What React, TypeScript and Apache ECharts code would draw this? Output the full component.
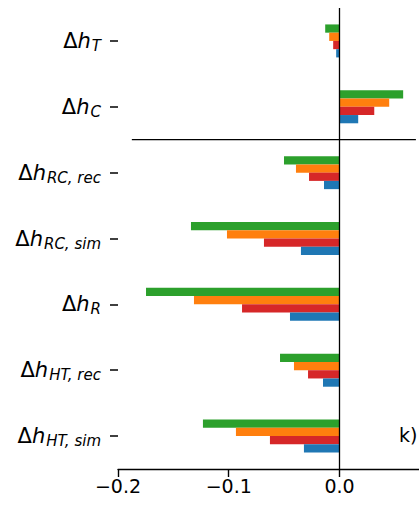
import React, { useEffect, useRef } from "react";
import * as echarts from "echarts";

const categories = ["Δh_T", "Δh_C", "Δh_RC, rec", "Δh_RC, sim", "Δh_R", "Δh_HT, rec", "Δh_HT, sim"];
const greenValues = [-0.0129, 0.0575, -0.0501, -0.1341, -0.1747, -0.0537, -0.1233];
const orangeValues = [-0.0093, 0.0449, -0.0393, -0.1016, -0.1314, -0.0411, -0.0935];
const redValues = [-0.0057, 0.0314, -0.0275, -0.0682, -0.088, -0.0284, -0.0628];
const blueValues = [-0.003, 0.0169, -0.014, -0.0348, -0.0447, -0.0149, -0.0321];
const xTicks = [-0.2, -0.1, 0.0];
const separatorX = [-0.1875, 0.069];
const panelLabel = "k)";

const FONT = "DejaVu Sans";

export default function App() {
  const ref = useRef<HTMLDivElement>(null);
  useEffect(() => {
    document.body.style.margin = "0";
    const chart = echarts.init(ref.current!, null, { renderer: "svg" });
    const barCommon = {
      type: "bar" as const,
      barWidth: 8.25,
      barGap: "0%",
    };
    chart.setOption({
      animation: false,
      grid: { left: 118, right: 0, top: 8, bottom: 42, containLabel: false },
      xAxis: {
        type: "value",
        min: -0.2,
        max: 0.0718,
        interval: 0.1,
        splitLine: { show: false },
        axisLine: { show: true, onZero: false, lineStyle: { color: "#000", width: 1.3 } },
        axisTick: { show: true, length: 8, customValues: xTicks, lineStyle: { color: "#000", width: 1.4 } },
        axisLabel: {
          customValues: xTicks,
          margin: 7,
          fontSize: 19,
          fontFamily: FONT,
          color: "#000",
          formatter: (v: number) => (v < -1e-9 ? "\u2212" : "") + Math.abs(v).toFixed(1),
        },
      },
      yAxis: {
        type: "category",
        inverse: true,
        data: categories,
        axisLine: { show: false, onZero: false },
        axisTick: { show: true, alignWithLabel: true, length: 8, lineStyle: { color: "#000", width: 1.5 } },
        splitLine: { show: false },
        axisLabel: {
          margin: 17,
          color: "#000",
          formatter: (v: string) => {
            const sub = v.split("_")[1];
            return `{d|Δ}{h|h}{s|${sub}}`;
          },
          rich: {
            d: { fontSize: 21, fontFamily: FONT, lineHeight: 22, color: "#000" },
            h: { fontSize: 21, fontFamily: FONT, fontStyle: "italic", lineHeight: 22, color: "#000", padding: [0, 1, 0, 0] },
            s: { fontSize: 15, fontFamily: FONT, fontStyle: "italic", lineHeight: 15, padding: [10, 0, 0, 0], color: "#000" },
          },
        },
      },
      series: [
        {
          ...barCommon,
          name: "green",
          data: greenValues,
          itemStyle: { color: "#2ca02c" },
          markLine: {
            silent: true,
            symbol: "none",
            label: { show: false },
            lineStyle: { color: "#000", width: 1.3, type: "solid" },
            data: [{ xAxis: 0 }],
          },
        },
        { ...barCommon, name: "orange", data: orangeValues, itemStyle: { color: "#ff7f0e" } },
        { ...barCommon, name: "red", data: redValues, itemStyle: { color: "#d62728" } },
        { ...barCommon, name: "blue", data: blueValues, itemStyle: { color: "#1f77b4" } },
      ],
    });
    const p1 = chart.convertToPixel({ gridIndex: 0 }, [separatorX[0], 1]) as number[];
    const p2 = chart.convertToPixel({ gridIndex: 0 }, [separatorX[1], 2]) as number[];
    const ySep = (p1[1] + p2[1]) / 2;
    chart.setOption({
      graphic: [
        {
          type: "line",
          shape: { x1: p1[0], y1: ySep, x2: p2[0], y2: ySep },
          style: { stroke: "#000", lineWidth: 1.3 },
          silent: true,
        },
        {
          type: "text",
          left: 399,
          top: 425,
          style: { text: panelLabel, fontSize: 19, fontFamily: FONT, fill: "#000" },
        },
      ],
    });
    return () => chart.dispose();
  }, []);
  return <div ref={ref} style={{ position: "absolute", left: 0, top: 0, width: 419, height: 511 }} />;
}
